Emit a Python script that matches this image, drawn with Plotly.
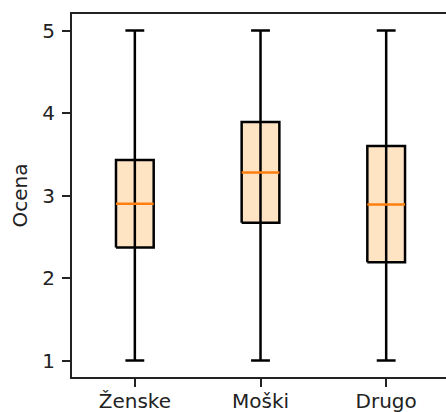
import plotly.graph_objects as go

categories = ["Ženske", "Moški", "Drugo"]
q1 = [2.37, 2.67, 2.19]
median = [2.90, 3.28, 2.89]
q3 = [3.43, 3.89, 3.60]
whisker_low = [1, 1, 1]
whisker_high = [5, 5, 5]
y_ticks = [1, 2, 3, 4, 5]

positions = [1, 2, 3]
box_w = 0.3
cap_w = 0.15

FILL = "#FFE4C4"
EDGE = "black"
MED = "#ff7f0e"
LW = 2.5

fig = go.Figure()

for i, p in enumerate(positions):
    # box fill
    fig.add_trace(go.Scatter(
        x=[p - box_w/2, p + box_w/2, p + box_w/2, p - box_w/2, p - box_w/2],
        y=[q1[i], q1[i], q3[i], q3[i], q1[i]],
        mode="lines", fill="toself", fillcolor=FILL,
        line=dict(color="rgba(0,0,0,0)", width=0),
        hoverinfo="skip", showlegend=False))
for i, p in enumerate(positions):
    # whisker through the box
    fig.add_trace(go.Scatter(
        x=[p, p], y=[whisker_low[i], whisker_high[i]], mode="lines",
        line=dict(color=EDGE, width=LW), hoverinfo="skip", showlegend=False))
    # caps
    for c in (whisker_low[i], whisker_high[i]):
        fig.add_trace(go.Scatter(
            x=[p - cap_w/2, p + cap_w/2], y=[c, c], mode="lines",
            line=dict(color=EDGE, width=LW), hoverinfo="skip", showlegend=False))
    # box outline
    fig.add_trace(go.Scatter(
        x=[p - box_w/2, p + box_w/2, p + box_w/2, p - box_w/2, p - box_w/2],
        y=[q1[i], q1[i], q3[i], q3[i], q1[i]],
        mode="lines", line=dict(color=EDGE, width=LW),
        hoverinfo="skip", showlegend=False))
    # median
    fig.add_trace(go.Scatter(
        x=[p - box_w/2, p + box_w/2], y=[median[i], median[i]], mode="lines",
        line=dict(color=MED, width=LW), hoverinfo="skip", showlegend=False))

font = dict(family="DejaVu Sans", size=20, color="#222222")

fig.update_layout(
    width=446, height=412,
    margin=dict(l=72, r=0, t=14, b=35),
    paper_bgcolor="white", plot_bgcolor="white",
    font=font,
    xaxis=dict(
        range=[0.5, 3.476], tickmode="array", tickvals=positions, ticktext=categories,
        showgrid=False, zeroline=False, showline=True, linecolor="#222222", linewidth=2,
        mirror=True, ticks="outside", ticklen=8, tickwidth=2, tickcolor="#222222",
        tickfont=font, automargin=False, ticklabelstandoff=-3),
    yaxis=dict(
        range=[0.8, 5.2], tickmode="array", tickvals=y_ticks,
        ticktext=[str(t) for t in y_ticks],
        showgrid=False, zeroline=False, showline=True, linecolor="#222222", linewidth=2,
        mirror=False, ticks="outside", ticklen=8, tickwidth=2, tickcolor="#222222",
        tickfont=font, automargin=False, ticklabelstandoff=3,
        title=dict(text="Ocena", font=font, standoff=9)),
)

fig.write_html(
    "out.html",
    config={"displayModeBar": False},
    post_script=(
        "document.body.style.margin='0';"
        "document.body.style.overflow='hidden';"
        "document.documentElement.style.overflow='hidden';"
    ),
)
